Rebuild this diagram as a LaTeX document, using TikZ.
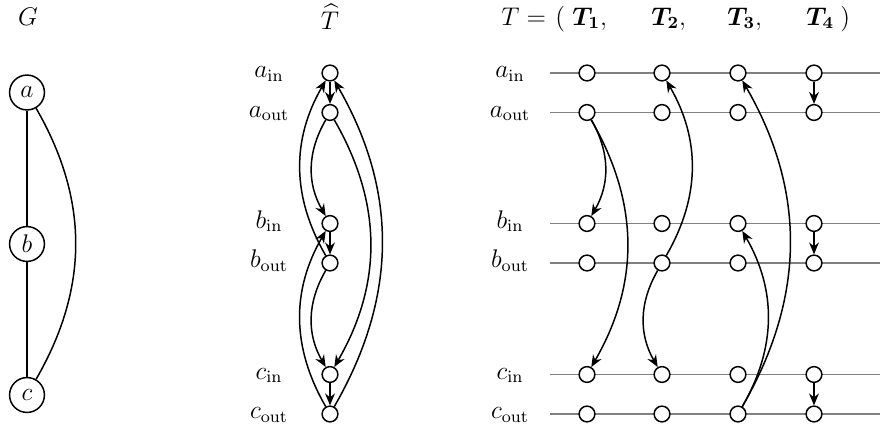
\documentclass[tikz,border=0pt]{standalone}
\usepackage{amsmath,amssymb}
\usetikzlibrary{arrows.meta}
\begin{document}
\begin{tikzpicture}[x=0.47pt,y=-0.47pt,font=\large,
  vtx/.style={circle,draw,line width=0.7pt,fill=white,minimum size=7.4pt,inner sep=0pt},
  gvtx/.style={circle,draw,line width=0.7pt,minimum size=16.4pt,inner sep=0pt},
  lbl/.style={anchor=mid,inner sep=0pt},
  ttl/.style={anchor=base,inner sep=0pt},
  arr/.style={-{Stealth[length=5.6pt,width=4.6pt]},line width=0.7pt},
  gline/.style={line width=0.7pt},
  track/.style={draw=black!50,line width=0.9pt}]
\useasboundingbox (0,0) rectangle (880,428);

% titles
\node[ttl] (tG) at (28,25) {$G$};
\node[ttl] (tTh) at (330,29) {$\widehat{T}$};
\node[anchor=base west,inner sep=0pt] (tTeq) at (501,25) {$T=$};
\node[anchor=base west,inner sep=0pt] (tpar) at (555,25) {$($};
\node[anchor=base west,inner sep=0pt] (tT1) at (572,25) {$\boldsymbol{T_1},$};
\node[anchor=base west,inner sep=0pt] (tT2) at (651,25) {$\boldsymbol{T_2},$};
\node[anchor=base west,inner sep=0pt] (tT3) at (727,25) {$\boldsymbol{T_3},$};
\node[anchor=base west,inner sep=0pt] (tT4) at (806,25) {$\boldsymbol{T_4}$};
\node[anchor=base west,inner sep=0pt] (tcl) at (840,25) {$)$};

% graph G
\node[gvtx] (ga) at (27,92.5) {$a$};
\node[gvtx] (gb) at (27,244) {$b$};
\node[gvtx] (gc) at (27,395) {$c$};
\draw[gline] (ga) -- (gb);
\draw[gline] (gb) -- (gc);
\draw[gline] (ga) to[bend left=30] (gc);

% rows: labels, T-hat vertices, tracks and T_i vertices
\foreach \r/\y/\t in {ai/73/a_{\mathrm{in}},ao/112.5/a_{\mathrm{out}},bi/223.5/b_{\mathrm{in}},bo/263/b_{\mathrm{out}},ci/374.5/c_{\mathrm{in}},co/414/c_{\mathrm{out}}}{
  \node[lbl] (hl\r) at (269,\y) {$\t$};
  \node[vtx] (h\r) at (330,\y) {};
  \node[lbl] (rl\r) at (510,\y) {$\t$};
  \coordinate (s\r) at (550,\y);
  \coordinate (e\r) at (880,\y);
  \draw[track] (s\r) -- (e\r);
  \foreach \c/\x in {1/587,2/662,3/738,4/814}{
    \node[vtx] (\c\r) at (\x,\y) {};
  }
}
\draw[arr] (hai) -- (hao);
\draw[arr] (hbi) -- (hbo);
\draw[arr] (hci) -- (hco);
\draw[arr] (hao) to[bend right=30] (hbi);
\draw[arr] (hbo) to[bend right=30] (hci);
\draw[arr] (hbo) to[bend left=30] (hai);
\draw[arr] (hco) to[bend left=30] (hbi);
\draw[arr] (hao) to[bend left=30] (hci);
\draw[arr] (hco) to[bend right=30] (hai);

% T_1 .. T_4
\draw[arr] (1ao) to[bend left=30] (1bi);
\draw[arr] (1ao) to[bend left=30] (1ci);
\draw[arr] (2bo) to[bend right=30] (2ai);
\draw[arr] (2bo) to[bend right=30] (2ci);
\draw[arr] (3co) to[bend right=30] (3ai);
\draw[arr] (3co) to[bend right=30] (3bi);
\draw[arr] (4ai) -- (4ao);
\draw[arr] (4bi) -- (4bo);
\draw[arr] (4ci) -- (4co);
\end{tikzpicture}
\end{document}
